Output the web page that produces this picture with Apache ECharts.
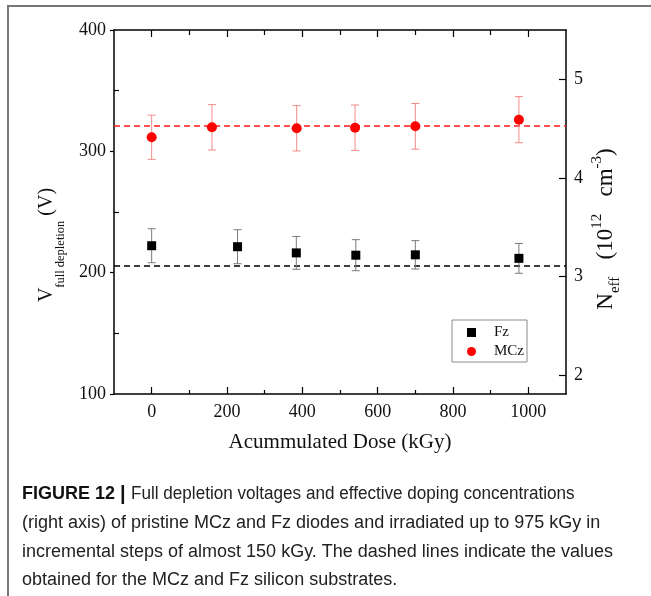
<!DOCTYPE html>
<html><head><meta charset="utf-8">
<script src="https://cdn.jsdelivr.net/npm/echarts@6/dist/echarts.min.js"></script>
<style>
html,body{margin:0;padding:0;background:#fff;overflow:hidden;}
#frame{position:absolute;left:7px;top:5px;width:700px;height:700px;border-left:2px solid #767676;border-top:2px solid #767676;}
#chart{position:absolute;left:0;top:0;width:651px;height:596px;}
</style></head><body>
<div id="frame"></div><div id="chart"></div>
<script>
// ---- data ----
const fzDose = [0, 228, 384, 542, 700, 975];
const fzV = [222.2, 221.4, 216.3, 214.4, 214.7, 211.8];
const fzErr = [14.0, 14.0, 13.5, 12.8, 11.7, 12.3];
const mczDose = [0, 160, 385, 540, 700, 975];
const mczV = [311.6, 319.8, 319.0, 319.5, 320.6, 326.1];
const mczErr = [18.2, 18.7, 18.7, 18.7, 18.8, 19.0];
const fzMean = 206;
const mczMean = 321;
const xTickLabels = [0, 200, 400, 600, 800, 1000];
const xMinorTicks = [100, 300, 500, 700, 900];
const yLeftMinorTicks = [150, 250, 350];
const yRightTicks = [2, 3, 4, 5];
const captionHead = "FIGURE 12";
const captionFirst = "Full depletion voltages and effective doping concentrations";
const captionLines = [
  "(right axis) of pristine MCz and Fz diodes and irradiated up to 975 kGy in",
  "incremental steps of almost 150 kGy. The dashed lines indicate the values",
  "obtained for the MCz and Fz silicon substrates."
];

const SERIF = "'Liberation Serif', 'Times New Roman', serif";
const SANS = "'Liberation Sans Narrow', 'Liberation Sans', Arial, sans-serif";
const labelStyle = {color: '#111', fontFamily: SERIF, fontSize: 18};

function errRender(color) {
  return function (params, api) {
    const x = api.value(0), lo = api.value(1), hi = api.value(2);
    const a = api.coord([x, hi]), b = api.coord([x, lo]);
    const hw = 4;
    const st = {stroke: color, lineWidth: 1};
    return {type: 'group', children: [
      {type: 'line', shape: {x1: a[0], y1: a[1], x2: b[0], y2: b[1]}, style: st},
      {type: 'line', shape: {x1: a[0] - hw, y1: a[1], x2: a[0] + hw, y2: a[1]}, style: st},
      {type: 'line', shape: {x1: b[0] - hw, y1: b[1], x2: b[0] + hw, y2: b[1]}, style: st}
    ]};
  };
}

const chart = echarts.init(document.getElementById('chart'), null, {renderer: 'canvas'});
const xBase = {type: 'value', min: -100, max: 1100, splitLine: {show: false}};
const tickLine = {color: '#000', width: 1.2};
const option = {
  animation: false,
  backgroundColor: 'transparent',
  grid: {left: 114, right: 85, top: 30, bottom: 202, containLabel: false, outerBoundsMode: 'none'},
  xAxis: [
    Object.assign({}, xBase, {position: 'bottom',
      axisLine: {show: true, onZero: false, lineStyle: {color: '#000', width: 1.5}},
      axisTick: {show: true, inside: true, length: 7, customValues: xTickLabels, lineStyle: tickLine},
      axisLabel: Object.assign({customValues: xTickLabels, margin: 9, formatter: v => String(v)}, labelStyle),
      name: 'Acummulated Dose (kGy)', nameLocation: 'middle', nameGap: 38,
      nameTextStyle: {color: '#111', fontFamily: SERIF, fontSize: 21}
    }),
    Object.assign({}, xBase, {position: 'bottom',
      axisLine: {show: false, onZero: false},
      axisTick: {show: true, inside: true, length: 4, customValues: xMinorTicks, lineStyle: tickLine},
      axisLabel: {show: false}
    }),
    Object.assign({}, xBase, {position: 'top',
      axisLine: {show: true, onZero: false, lineStyle: {color: '#000', width: 1.5}},
      axisTick: {show: true, inside: true, length: 7, customValues: xTickLabels, lineStyle: tickLine},
      axisLabel: {show: false}
    }),
    Object.assign({}, xBase, {position: 'top',
      axisLine: {show: false, onZero: false},
      axisTick: {show: true, inside: true, length: 5, customValues: xMinorTicks, lineStyle: tickLine},
      axisLabel: {show: false}
    })
  ],
  yAxis: [
    {type: 'value', position: 'left', min: 100, max: 400, interval: 100, splitLine: {show: false},
      axisLine: {show: true, onZero: false, lineStyle: {color: '#000', width: 1.5}},
      axisTick: {show: true, inside: false, length: 4, lineStyle: tickLine},
      axisLabel: Object.assign({margin: 8}, labelStyle)
    },
    {type: 'value', position: 'right', min: 1.807, max: 5.5, splitLine: {show: false},
      axisLine: {show: true, onZero: false, lineStyle: {color: '#000', width: 1.5}},
      axisTick: {show: true, inside: true, length: 7, customValues: yRightTicks, lineStyle: tickLine},
      axisLabel: Object.assign({margin: 8, customValues: yRightTicks}, labelStyle)
    },
    {type: 'value', position: 'left', min: 100, max: 400, splitLine: {show: false},
      axisLine: {show: false, onZero: false},
      axisTick: {show: true, inside: true, length: 5, customValues: yLeftMinorTicks, lineStyle: tickLine},
      axisLabel: {show: false}
    }
  ],
  legend: {
    orient: 'vertical', left: 452, top: 320,
    data: [{name: 'Fz', icon: 'rect'}, {name: 'MCz', icon: 'circle'}],
    itemWidth: 9, itemHeight: 9, itemGap: 4,
    padding: [5, 3, 3, 15],
    borderColor: '#8a8a8a', borderWidth: 1, backgroundColor: '#fff',
    itemStyle: {opacity: 1},
    textStyle: {color: '#111', fontFamily: SERIF, fontSize: 15, padding: [0, 0, 0, 13]}
  },
  series: [
    {name: 'FzErr', type: 'custom', xAxisIndex: 0, yAxisIndex: 0, renderItem: errRender('#7a7a7a'),
      encode: {x: 0, y: [1, 2]}, z: 3, silent: true,
      data: fzDose.map((d, i) => [d, fzV[i] - fzErr[i], fzV[i] + fzErr[i]])},
    {name: 'MCzErr', type: 'custom', xAxisIndex: 0, yAxisIndex: 0, renderItem: errRender('#f28b8b'),
      encode: {x: 0, y: [1, 2]}, z: 3, silent: true,
      data: mczDose.map((d, i) => [d, mczV[i] - mczErr[i], mczV[i] + mczErr[i]])},
    {name: 'Fz', type: 'scatter', xAxisIndex: 0, yAxisIndex: 0, symbol: 'rect', symbolSize: 9, z: 5,
      itemStyle: {color: '#000', opacity: 1},
      data: fzDose.map((d, i) => [d, fzV[i]]),
      markLine: {silent: true, symbol: ['none', 'none'], label: {show: false}, z: 2,
        lineStyle: {color: '#000', type: [6, 4], width: 1.6, opacity: 1},
        data: [{yAxis: fzMean}]}},
    {name: 'MCz', type: 'scatter', xAxisIndex: 0, yAxisIndex: 0, symbol: 'circle', symbolSize: 10, z: 5,
      itemStyle: {color: '#ff0000', opacity: 1},
      data: mczDose.map((d, i) => [d, mczV[i]]),
      markLine: {silent: true, symbol: ['none', 'none'], label: {show: false}, z: 2,
        lineStyle: {color: '#ff1a1a', type: [6, 4], width: 1.6, opacity: 1},
        data: [{yAxis: mczMean}]}}
  ],
  graphic: [
    {type: 'text', x: 47, y: 245, rotation: Math.PI / 2, silent: true,
      style: {text: '{m|V}{s|full depletion}{m| (V)}', align: 'center', verticalAlign: 'middle',
        fill: '#111',
        rich: {m: {fontFamily: SERIF, fontSize: 20, lineHeight: 40, fill: '#111', color: '#111'},
               s: {fontFamily: SERIF, fontSize: 12.5, lineHeight: 12, verticalAlign: 'bottom', fill: '#111', color: '#111'}}}},
    {type: 'text', x: 606, y: 229, rotation: Math.PI / 2, silent: true,
      style: {text: '{m|N}{s|eff}{m|   (10}{u|12}{m|   cm}{u|-3}{m|)}', align: 'center', verticalAlign: 'middle',
        fill: '#111',
        rich: {m: {fontFamily: SERIF, fontSize: 23, lineHeight: 33, fill: '#111', color: '#111'},
               s: {fontFamily: SERIF, fontSize: 15, lineHeight: 15, verticalAlign: 'bottom', fill: '#111', color: '#111'},
               u: {fontFamily: SERIF, fontSize: 15, lineHeight: 15, verticalAlign: 'top', fill: '#111', color: '#111'}}}},
    {type: 'text', x: 22, y: 494, silent: true,
      style: {text: '{b|' + captionHead + ' }{bar||}', verticalAlign: 'middle', align: 'left',
        rich: {b: {fontFamily: SANS, fontWeight: 'bold', fontSize: 18, fill: '#111', color: '#111'},
               bar: {fontFamily: SANS, fontWeight: 'bold', fontSize: 20, fill: '#111', color: '#111'}}}},
    {type: 'text', x: 131, y: 494, scaleX: 0.95, silent: true,
      style: {text: captionFirst, verticalAlign: 'middle', font: '18px ' + SANS, fill: '#222'}},
    {type: 'text', x: 22, y: 523, silent: true,
      style: {text: captionLines[0], verticalAlign: 'middle', font: '18px ' + SANS, fill: '#222'}},
    {type: 'text', x: 22, y: 552, silent: true,
      style: {text: captionLines[1], verticalAlign: 'middle', font: '18px ' + SANS, fill: '#222'}},
    {type: 'text', x: 22, y: 580, silent: true,
      style: {text: captionLines[2], verticalAlign: 'middle', font: '18px ' + SANS, fill: '#222'}}
  ]
};
chart.setOption(option);
</script>
</body></html>
